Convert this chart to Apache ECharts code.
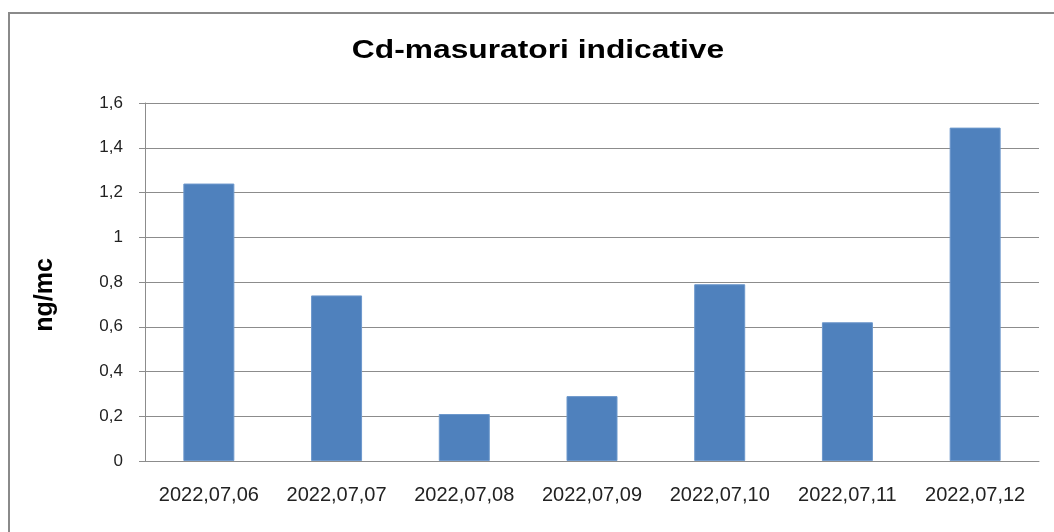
<!DOCTYPE html>
<html>
<head>
<meta charset="utf-8">
<script src="https://cdn.jsdelivr.net/npm/echarts@6/dist/echarts.min.js"></script>
<style>
  html, body { margin: 0; padding: 0; background: #fff; overflow: hidden; }
  #frame { position: absolute; left: 8px; top: 12px; width: 1100px; height: 600px; border: 2px solid #8a8a8a; }
  #chart { position: absolute; left: 0; top: 0; width: 1054px; height: 532px; }
</style>
</head>
<body>
<div id="frame"></div>
<div id="chart"></div>
<script>
const days = ['2022,07,06', '2022,07,07', '2022,07,08', '2022,07,09', '2022,07,10', '2022,07,11', '2022,07,12']
const cdValues = [1.24, 0.74, 0.21, 0.29, 0.79, 0.62, 1.49]

const chart = echarts.init(document.getElementById('chart'))

const option = {
  animation: false,
  graphic: [{
    // title, a bit wider than plain Arial bold in the original
    type: 'text',
    x: 538,
    y: 51,
    scaleX: 1.27,
    style: {
      text: 'Cd-masuratori indicative',
      font: 'bold 25px "Liberation Sans"',
      fill: '#000',
      align: 'center',
      verticalAlign: 'middle'
    }
  }, {
    type: 'text',
    x: 45,
    y: 295,
    rotation: Math.PI / 2,
    style: {
      text: 'ng/mc',
      font: 'bold 25px "Liberation Sans"',
      fill: '#000',
      align: 'center',
      verticalAlign: 'middle'
    }
  }],
  grid: { left: 145, right: 15, top: 103, bottom: 71, containLabel: false },
  xAxis: {
    type: 'category',
    data: days,
    axisLine: { lineStyle: { color: '#8c8c8c', width: 1 } },
    axisTick: { show: false },
    axisLabel: { interval: 0, color: '#222', fontFamily: 'Liberation Sans', fontSize: 20, margin: 24 }
  },
  yAxis: {
    type: 'value',
    min: 0,
    max: 1.6,
    interval: 0.2,
    axisLine: { show: true, lineStyle: { color: '#8c8c8c' } },
    axisTick: { show: true, inside: false, length: 6, lineStyle: { color: '#8c8c8c' } },
    splitLine: { lineStyle: { color: '#8c8c8c' } },
    axisLabel: {
      color: '#222',
      fontFamily: 'Liberation Sans',
      fontSize: 17,
      margin: 22,
      formatter: v => String(Math.round(v * 10) / 10).replace('.', ',')
    }
  },
  series: [{
    type: 'bar',
    data: cdValues,
    barWidth: 51,
    itemStyle: { color: '#4f81bd', borderColor: '#6d98cc', borderWidth: 1 }
  }]
}

chart.setOption(option)
</script>
</body>
</html>
